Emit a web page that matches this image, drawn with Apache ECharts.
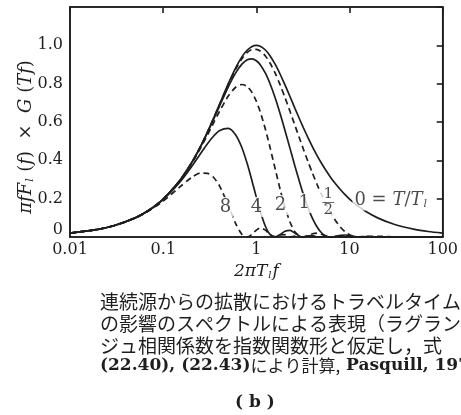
<!DOCTYPE html>
<html>
<head>
<meta charset="utf-8">
<script src="https://cdn.jsdelivr.net/npm/echarts@6/dist/echarts.min.js"></script>
<style>
html, body { margin: 0; padding: 0; background: #fff; }
#charts { width: 461px; height: 415px; }
</style>
</head>
<body>
<div id="charts"></div>
<script>
// 2*pi*Tl*f
var freq = [0.01, 0.02, 0.03, 0.05, 0.07, 0.1, 0.15, 0.2, 0.25, 0.3, 0.35, 0.4, 0.5, 0.6, 0.7, 0.8, 0.9, 1, 1.1, 1.25, 1.4, 1.6, 1.8, 2, 2.3, 2.6, 3, 3.2, 3.6, 4, 4.5, 5, 5.5, 6.3, 7, 8, 9, 10, 12, 15, 20, 30, 50, 70, 100];

// T/Tl = 0, 1/2, 1, 2, 4, 8
var curve0 = [0.02, 0.04, 0.06, 0.0998, 0.1393, 0.198, 0.2934, 0.3846, 0.4706, 0.5505, 0.6236, 0.6897, 0.8, 0.8824, 0.9396, 0.9756, 0.9945, 1.0, 0.9955, 0.9756, 0.9459, 0.8989, 0.8491, 0.8, 0.7317, 0.6701, 0.6, 0.5694, 0.5157, 0.4706, 0.4235, 0.3846, 0.352, 0.3096, 0.28, 0.2462, 0.2195, 0.198, 0.1655, 0.1329, 0.0998, 0.0666, 0.04, 0.0286, 0.02];
var curveHalf = [0.02, 0.04, 0.06, 0.0998, 0.1393, 0.198, 0.2933, 0.3843, 0.47, 0.5495, 0.622, 0.6874, 0.7958, 0.8758, 0.93, 0.9627, 0.978, 0.9794, 0.9707, 0.9447, 0.9079, 0.8519, 0.7935, 0.7355, 0.6544, 0.5809, 0.4956, 0.4578, 0.3907, 0.3332, 0.2724, 0.2217, 0.1791, 0.1248, 0.0885, 0.0509, 0.0263, 0.0113, 0.0004, 0.0031, 0.0037, 0.001, 0, 0, 0];
var curve1 = [0.02, 0.04, 0.06, 0.0998, 0.1392, 0.1978, 0.2929, 0.3833, 0.4681, 0.5464, 0.6172, 0.6806, 0.7835, 0.8561, 0.9018, 0.9246, 0.9294, 0.9194, 0.8992, 0.855, 0.8011, 0.7228, 0.6433, 0.5665, 0.461, 0.3682, 0.2653, 0.2222, 0.1509, 0.0973, 0.0507, 0.022, 0.0068, 0, 0.0028, 0.0088, 0.0104, 0.0073, 0.0004, 0.0021, 0.0003, 0, 0, 0, 0];
var curve2 = [0.02, 0.04, 0.06, 0.0997, 0.1391, 0.1973, 0.2912, 0.3795, 0.4609, 0.5342, 0.5985, 0.6536, 0.7355, 0.7814, 0.7957, 0.7845, 0.7534, 0.7081, 0.6535, 0.5623, 0.4687, 0.3508, 0.2485, 0.1654, 0.0769, 0.0263, 0.0013, 0.0002, 0.0078, 0.0168, 0.02, 0.0141, 0.0058, 0, 0.0025, 0.0038, 0.0005, 0.0006, 0.0003, 0, 0, 0, 0, 0, 0];
var curve4 = [0.02, 0.04, 0.0599, 0.0995, 0.1384, 0.1954, 0.2847, 0.3645, 0.4327, 0.4875, 0.5281, 0.5546, 0.5665, 0.5323, 0.4656, 0.3808, 0.2911, 0.2067, 0.1344, 0.0559, 0.0135, 0.0003, 0.0128, 0.0286, 0.0342, 0.0194, 0.0013, 0.0002, 0.0063, 0.0072, 0.0009, 0.0011, 0.0029, 0, 0.0014, 0, 0, 0, 0, 0, 0, 0, 0, 0, 0];
var curve8 = [0.02, 0.0399, 0.0597, 0.0985, 0.1357, 0.1876, 0.2598, 0.3093, 0.3332, 0.3321, 0.309, 0.2692, 0.1654, 0.0699, 0.0134, 0.0003, 0.015, 0.0358, 0.0466, 0.0359, 0.012, 0.0003, 0.0103, 0.0122, 0.0004, 0.0042, 0.0012, 0.0002, 0.0023, 0.0002, 0, 0, 0, 0, 0, 0, 0, 0, 0, 0, 0, 0, 0, 0, 0];

// curve labels (T/Tl) placed on the curves
var labelText = ['8', '4', '2', '1', '{n|1}\n{b|—}\n{n|2}', '0 = {i|T}/{i|T}{s|l}'];
var labelX = [0.466, 1.0, 1.81, 3.26, 5.9, 10.6];
var labelY = [0.157, 0.157, 0.167, 0.177, 0.18, 0.193];

var xTicks = [0.01, 0.1, 1, 10, 100];

var caption = [
    '連続源からの拡散におけるトラベルタイム',
    'の影響のスペクトルによる表現（ラグラン',
    'ジュ相関係数を指数関数形と仮定し，式'
];

var ink = '#1e1e1e';
var serif = 'DejaVu Serif';

function pairs(vals) {
    return freq.map(function (f, i) { return [f, vals[i]]; });
}
function lineSeries(vals, dashed) {
    return {
        type: 'line',
        xAxisIndex: 0, yAxisIndex: 0,
        data: pairs(vals),
        smooth: 0.25,
        showSymbol: false,
        silent: true,
        lineStyle: { color: ink, width: 1.7, type: dashed ? [6, 4] : 'solid' },
        z: 2
    };
}

var labelData = labelX.map(function (x, i) {
    var item = { value: [x, labelY[i]] };
    if (i === labelX.length - 1) item.label = { position: 'right', distance: 0 };
    return item;
});

var myChart = echarts.init(document.getElementById('charts'));
myChart.setOption({
    animation: false,
    backgroundColor: '#fff',
    grid: { left: 70, right: 17, top: 7, bottom: 178, show: true, borderColor: ink, borderWidth: 1.6 },
    xAxis: [{
        type: 'log', min: 0.01, max: 100, logBase: 10,
        position: 'bottom',
        axisLine: { onZero: false, lineStyle: { color: ink, width: 1.6 } },
        axisTick: { show: false },
        splitLine: { show: false },
        axisLabel: {
            color: ink, fontFamily: serif, fontSize: 16, margin: 5,
            formatter: function (v) {
                var k = xTicks.indexOf(v);
                return k >= 0 ? String(xTicks[k]) : '';
            }
        },
        name: '{t|2\u03c0T}{s|l}{t|f}',
        nameLocation: 'middle', nameGap: 25,
        nameTextStyle: {
            rich: {
                t: { fontFamily: serif, fontStyle: 'italic', fontSize: 17, color: ink },
                s: { fontFamily: serif, fontStyle: 'italic', fontSize: 10, color: ink, verticalAlign: 'bottom', padding: [8, 1, 0, 1] }
            }
        }
    }, {
        type: 'log', min: 0.01, max: 100, logBase: 10,
        position: 'top',
        axisLine: { show: true, onZero: false, lineStyle: { color: ink, width: 1.6 } },
        axisTick: { show: true, inside: true, length: 6, lineStyle: { color: ink, width: 1.6 } },
        axisLabel: { show: false },
        splitLine: { show: false }
    }],
    yAxis: [{
        type: 'value', min: 0, max: 1.2, interval: 0.2,
        position: 'left',
        axisLine: { show: true, onZero: false, lineStyle: { color: ink, width: 1.6 } },
        axisTick: { show: false },
        splitLine: { show: false },
        axisLabel: {
            color: ink, fontFamily: serif, fontSize: 16, margin: 7,
            formatter: function (v) {
                if (v > 1.01) return '';
                return v === 0 ? '{z|0}' : v.toFixed(1);
            },
            rich: { z: { fontFamily: serif, fontSize: 16, color: ink, padding: [0, 0, 14, 0] } }
        }
    }, {
        type: 'value', min: 0, max: 1.2, interval: 0.2,
        position: 'right',
        axisLine: { show: true, onZero: false, lineStyle: { color: ink, width: 1.6 } },
        axisTick: { show: true, inside: true, length: 6, lineStyle: { color: ink, width: 1.6 } },
        axisLabel: { show: false },
        splitLine: { show: false }
    }],
    series: [
        lineSeries(curve0, false),
        lineSeries(curveHalf, true),
        lineSeries(curve1, false),
        lineSeries(curve2, true),
        lineSeries(curve4, false),
        lineSeries(curve8, true),
        {
            // invisible copy so the top and right axes have data and draw their ticks
            type: 'line',
            xAxisIndex: 1, yAxisIndex: 1,
            data: pairs(curve0),
            showSymbol: false,
            silent: true,
            lineStyle: { opacity: 0 }
        },
        {
            type: 'scatter',
            xAxisIndex: 0, yAxisIndex: 0,
            data: labelData,
            symbolSize: 1,
            itemStyle: { color: 'rgba(0,0,0,0)' },
            silent: true,
            z: 10,
            label: {
                show: true,
                position: 'inside',
                color: ink,
                fontFamily: serif,
                fontSize: 18,
                backgroundColor: '#fff',
                padding: [1, 2],
                formatter: function (p) { return labelText[p.dataIndex]; },
                rich: {
                    n: { fontFamily: serif, fontSize: 15, lineHeight: 12, color: ink },
                    b: { fontFamily: serif, fontSize: 13, lineHeight: 4, color: ink },
                    i: { fontFamily: serif, fontStyle: 'italic', fontSize: 18, color: ink },
                    s: { fontFamily: serif, fontStyle: 'italic', fontSize: 11, color: ink, verticalAlign: 'bottom', padding: [8, 1, 0, 1] }
                }
            }
        }
    ],
    graphic: caption.map(function (line, i) {
        return {
            type: 'text', left: 100, top: 292 + i * 22,
            style: { text: line, font: '19px "Noto Sans CJK JP"', fill: ink }
        };
    }).concat([{
        // y axis title, rotated
        type: 'text', x: 26, y: 137, rotation: Math.PI / 2,
        style: {
            text: '{i|\u03c0fF}{s|l}{r| (}{i|f}{r|)  \u00d7  }{i|G}{r| (}{i|Tf}{r|)}',
            align: 'center', verticalAlign: 'middle',
            rich: {
                i: { font: 'italic 18px "DejaVu Serif"', fill: ink },
                r: { font: '18px "DejaVu Serif"', fill: ink },
                s: { font: 'italic 11px "DejaVu Serif"', fill: ink, verticalAlign: 'bottom', padding: [8, 1, 0, 1] }
            }
        }
    }, {
        type: 'text', left: 100, top: 357,
        style: {
            text: '{l|(22.40), (22.43)}{j|により計算,}{l| Pasquill, 197}',
            font: '17px "DejaVu Serif"',
            fill: ink,
            rich: {
                l: { font: 'bold 17px "DejaVu Serif"', fill: ink },
                j: { font: '17px "Noto Sans CJK JP"', fill: ink }
            }
        }
    }, {
        type: 'text', left: 235, top: 394,
        style: { text: '( b )', font: 'bold 17px "DejaVu Serif"', fill: ink }
    }])
});
</script>
</body>
</html>
